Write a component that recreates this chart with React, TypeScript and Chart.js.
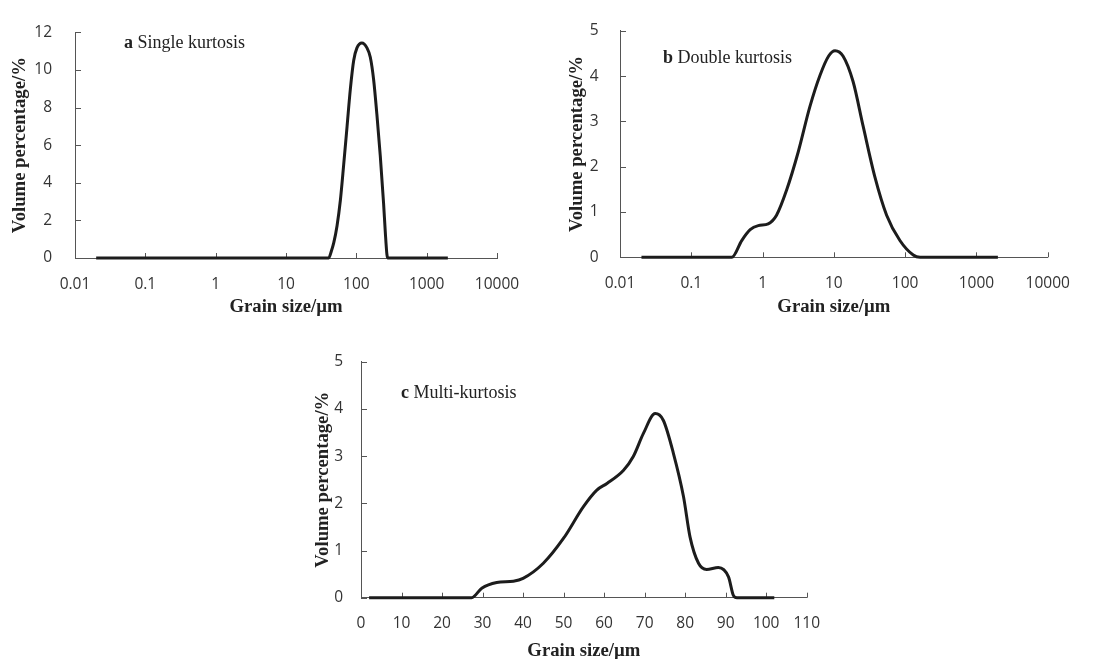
import React, { useEffect, useRef } from 'react';
import { Chart, registerables } from 'chart.js';

Chart.register(...registerables);

// ---------- data ----------
const sizeA = [0.02, 40.5, 44.2, 47.7, 53.2, 59.3, 66.1, 73.8, 82.2, 91.7, 102, 120, 141.6, 158, 176, 196, 219, 244, 258, 272, 281, 2000];
const volA = [0, 0, 0.37, 0.8, 1.72, 3.07, 4.96, 6.99, 8.98, 10.5, 11.17, 11.43, 11.17, 10.67, 9.49, 7.63, 5.43, 2.9, 1.39, 0.2, 0, 0];

const sizeB = [0.02, 0.37, 0.51, 0.67, 0.87, 1.2, 1.57, 2.18, 3.17, 4.6, 6.4, 8.5, 10.4, 13.5, 18.6, 25.7, 37.7, 55, 84.5, 130, 162, 2000];
const volB = [0, 0, 0.37, 0.61, 0.7, 0.74, 0.93, 1.49, 2.33, 3.32, 4.02, 4.45, 4.56, 4.44, 3.88, 2.9, 1.77, 0.93, 0.37, 0.05, 0, 0];

const sizeC = [2, 27.3, 29.8, 33.5, 37.6, 40, 45, 50, 54.9, 58.2, 60.7, 64.8, 67.2, 69.7, 72.6, 74.6, 77.1, 79.6, 81.2, 83.3, 85.3, 88.2, 90.7, 91.9, 92.8, 102];
const volC = [0, 0, 0.2, 0.32, 0.35, 0.41, 0.73, 1.26, 1.93, 2.28, 2.42, 2.7, 2.99, 3.48, 3.9, 3.76, 3.06, 2.14, 1.29, 0.73, 0.6, 0.64, 0.44, 0.05, 0, 0];

const logTickValues = [0.01, 0.1, 1, 10, 100, 1000, 10000];
const logTickLabels = ['0.01', '0.1', '1', '10', '100', '1000', '10000'];
const linTickValues = [0, 10, 20, 30, 40, 50, 60, 70, 80, 90, 100, 110];
const yTicksA = [0, 2, 4, 6, 8, 10, 12];
const yTicksB = [0, 1, 2, 3, 4, 5];
const yTicksC = [0, 1, 2, 3, 4, 5];

const xTitleText = 'Grain size/µm';
const yTitleText = 'Volume percentage/%';
const panelLetters = ['a', 'b', 'c'];
const panelNames = ['Single kurtosis', 'Double kurtosis', 'Multi-kurtosis'];

// ---------- styles ----------
const AXIS = '#555555';
const LINE = '#1c1c1c';
const TICK_FONT = { family: '"Open Sans", sans-serif', size: 15.5 };
const TITLE_FONT = { family: '"Liberation Serif", "Times New Roman", serif', size: 18.7, weight: 'bold' as const };

type Panel = {
  left: number; top: number; width: number; height: number;
  yW: number; xH: number; padTop: number; padRight: number;
  yTitlePad: number; xTitlePad: number; yTickPad: number;
  annX: number; annY: number;
  xs: number[]; ys: number[];
  logX: boolean; xMin: number; xMax: number;
  xTicks: number[]; xLabels: string[];
  yTicks: number[]; yMax: number;
  idx: number;
};

const panels: Panel[] = [
  {
    left: 0, top: 0, width: 540, height: 320, yW: 75, xH: 62, padTop: 21, padRight: 43,
    yTitlePad: 8.5, xTitlePad: 1.8, yTickPad: 23, annX: 124, annY: 48,
    xs: sizeA, ys: volA, logX: true, xMin: 0.01, xMax: 10000,
    xTicks: logTickValues, xLabels: logTickLabels, yTicks: yTicksA, yMax: 12, idx: 0,
  },
  {
    left: 550, top: 0, width: 545, height: 320, yW: 70, xH: 62.7, padTop: 20, padRight: 47.3,
    yTitlePad: 16.3, xTitlePad: 1.8, yTickPad: 21.5, annX: 113, annY: 63,
    xs: sizeB, ys: volB, logX: true, xMin: 0.01, xMax: 10000,
    xTicks: logTickValues, xLabels: logTickLabels, yTicks: yTicksB, yMax: 5, idx: 1,
  },
  {
    left: 300, top: 330, width: 540, height: 340, yW: 61, xH: 72.3, padTop: 31.7, padRight: 33.3,
    yTitlePad: 11.5, xTitlePad: 7.8, yTickPad: 18, annX: 101, annY: 68,
    xs: sizeC, ys: volC, logX: false, xMin: 0, xMax: 110,
    xTicks: linTickValues, xLabels: linTickValues.map(String), yTicks: yTicksC, yMax: 5, idx: 2,
  },
];

const innerTicks = {
  id: 'innerTicks',
  beforeDatasetsDraw(chart: any) {
    const { ctx, chartArea, scales } = chart;
    ctx.save();
    ctx.strokeStyle = AXIS;
    ctx.lineWidth = 1;
    ctx.beginPath();
    scales.x.ticks.forEach((t: any) => {
      const px = Math.round(scales.x.getPixelForValue(t.value)) + 0.5;
      ctx.moveTo(px, chartArea.bottom);
      ctx.lineTo(px, chartArea.bottom - 5);
    });
    scales.y.ticks.forEach((t: any) => {
      const py = Math.round(scales.y.getPixelForValue(t.value)) + 0.5;
      ctx.moveTo(chartArea.left, py);
      ctx.lineTo(chartArea.left + 6, py);
    });
    ctx.stroke();
    ctx.restore();
  },
};

const annotation = {
  id: 'annotation',
  afterDraw(chart: any) {
    const p: Panel = chart.options.plugins.annotation.panel;
    const { ctx } = chart;
    ctx.save();
    ctx.fillStyle = '#222';
    ctx.textBaseline = 'alphabetic';
    ctx.textAlign = 'left';
    ctx.font = 'bold 18px "Liberation Serif", "Times New Roman", serif';
    const letter = panelLetters[p.idx];
    ctx.fillText(letter, p.annX, p.annY);
    const w = ctx.measureText(letter + ' ').width;
    ctx.font = '18px "Liberation Serif", "Times New Roman", serif';
    ctx.fillText(panelNames[p.idx], p.annX + w, p.annY);
    ctx.restore();
  },
};

function PanelChart({ p }: { p: Panel }) {
  const ref = useRef<HTMLCanvasElement | null>(null);
  useEffect(() => {
    if (!ref.current) return;
    const data = p.xs.map((x, i) => ({ x, y: p.ys[i] }));
    const chart = new Chart(ref.current, {
      type: 'scatter',
      data: {
        datasets: [
          {
            data,
            showLine: true,
            borderColor: LINE,
            borderWidth: 3,
            pointRadius: 0,
            cubicInterpolationMode: 'monotone',
            clip: false,
          } as any,
        ],
      },
      plugins: [innerTicks, annotation],
      options: {
        animation: false,
        responsive: false,
        maintainAspectRatio: false,
        layout: { padding: { top: p.padTop, right: p.padRight, left: 0, bottom: 0 } },
        plugins: {
          legend: { display: false },
          tooltip: { enabled: false },
          annotation: { panel: p },
        } as any,
        scales: {
          x: {
            type: p.logX ? 'logarithmic' : 'linear',
            min: p.xMin,
            max: p.xMax,
            grid: { display: false, drawTicks: false },
            border: { display: true, color: AXIS, width: 1 },
            afterBuildTicks: (s: any) => {
              s.ticks = p.xTicks.map((v) => ({ value: v }));
            },
            afterFit: (s: any) => { s.height = p.xH; },
            ticks: {
              autoSkip: false,
              maxRotation: 0,
              padding: 17,
              color: '#333',
              font: TICK_FONT,
              callback: (_v: any, i: number) => p.xLabels[i],
            },
            title: {
              display: true,
              text: xTitleText,
              color: '#222',
              font: TITLE_FONT,
              padding: { top: 0, bottom: p.xTitlePad },
            },
          } as any,
          y: {
            type: 'linear',
            min: 0,
            max: p.yMax,
            grid: { display: false, drawTicks: false },
            border: { display: true, color: AXIS, width: 1 },
            afterBuildTicks: (s: any) => {
              s.ticks = p.yTicks.map((v) => ({ value: v }));
            },
            afterFit: (s: any) => { s.width = p.yW; },
            ticks: {
              padding: p.yTickPad,
              color: '#333',
              font: TICK_FONT,
              callback: (v: any) => String(v),
            },
            title: {
              display: true,
              text: yTitleText,
              color: '#222',
              font: TITLE_FONT,
              padding: { top: p.yTitlePad, bottom: 0 },
            },
          } as any,
        },
      },
    });
    return () => chart.destroy();
  }, [p]);
  return (
    <canvas
      ref={ref}
      width={p.width}
      height={p.height}
      style={{ position: 'absolute', left: p.left, top: p.top, width: p.width, height: p.height }}
    />
  );
}

export default function App() {
  return (
    <div style={{ position: 'absolute', left: 0, top: 0, width: 1095, height: 659, overflow: 'hidden', background: '#fff' }}>
      {panels.map((p) => (
        <PanelChart key={p.idx} p={p} />
      ))}
    </div>
  );
}
